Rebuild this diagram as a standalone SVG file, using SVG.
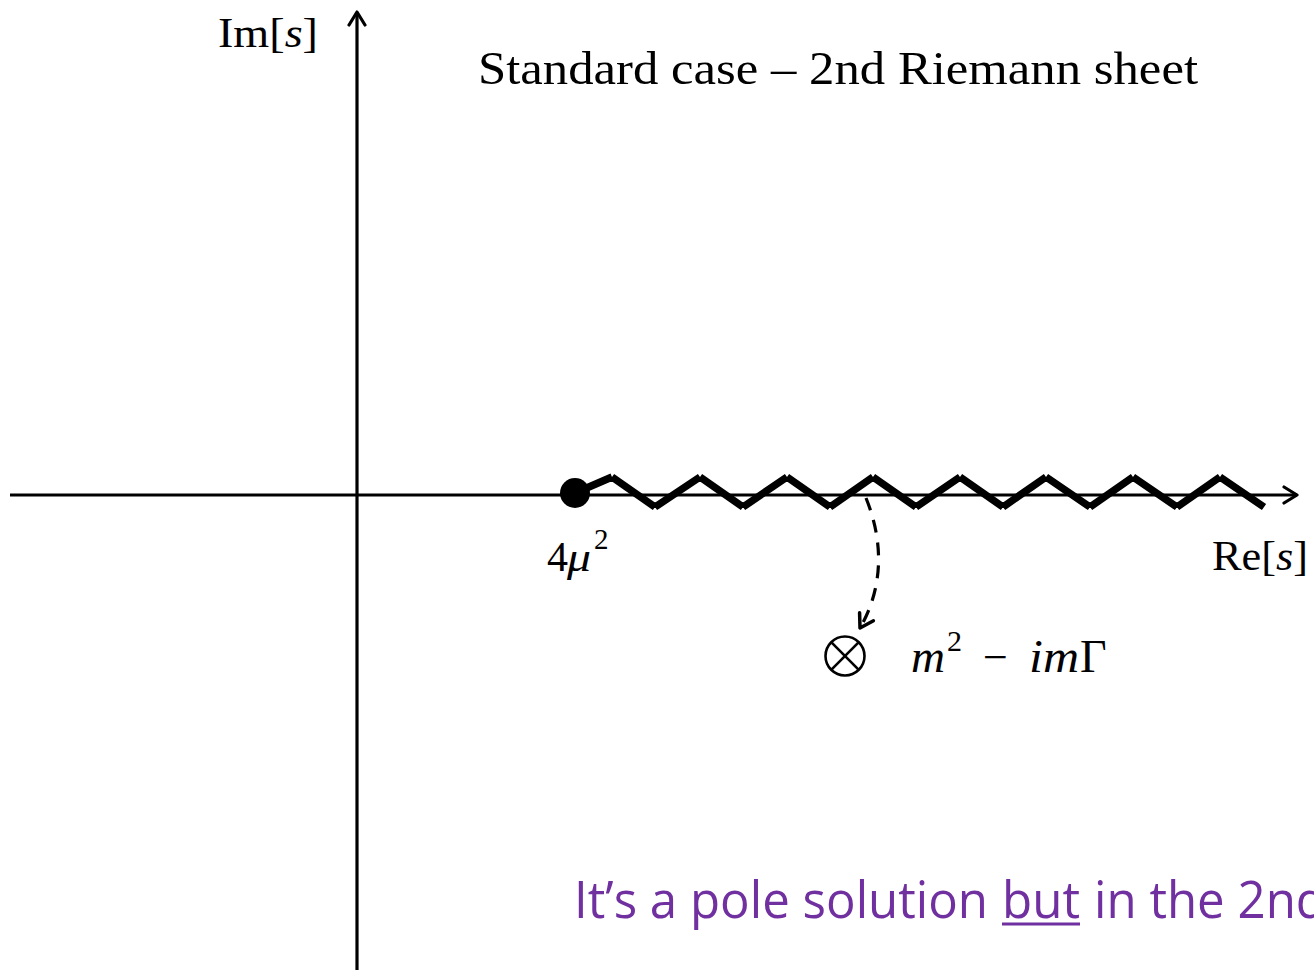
<svg xmlns="http://www.w3.org/2000/svg" width="1314" height="970" viewBox="0 0 1314 970">
<style>
.ax{stroke:#000;stroke-width:3.2;fill:none}
.zz{stroke:#000;stroke-width:7.5;fill:none;stroke-linecap:butt}
.m{font-family:"Liberation Serif","DejaVu Serif",serif;fill:#000}
.it{font-style:italic}
.p{font-family:"Open Sans","Noto Sans",sans-serif;fill:#7030A0}
</style>
<defs>
<marker id="ah" viewBox="0 0 20 20" refX="16" refY="10" markerWidth="20" markerHeight="20" markerUnits="userSpaceOnUse" orient="auto">
<path d="M3 2 L16 10 L3 18" fill="none" stroke="#000" stroke-width="3.2" stroke-linecap="round" stroke-linejoin="round"/>
</marker>
<marker id="ah2" viewBox="0 0 20 20" refX="16" refY="10" markerWidth="20" markerHeight="20" markerUnits="userSpaceOnUse" orient="auto">
<path d="M3 2 L16 10 L3 18" fill="none" stroke="#000" stroke-width="3.5" stroke-linecap="round" stroke-linejoin="round"/>
</marker>
</defs>
<g id="connectors">
<line class="ax" x1="10" y1="495" x2="1297" y2="495" marker-end="url(#ah)"/>
<line class="ax" x1="357" y1="970" x2="357" y2="12" marker-end="url(#ah)"/>
<path class="zz" d="M575 493 L612 477 M612 477 L655 507 M655 507 L700 477 M700 477 L743 507 M743 507 L787 477 M787 477 L830 507 M830 507 L873 477 M873 477 L916 507 M916 507 L960 477 M960 477 L1003 507 M1003 507 L1046 477 M1046 477 L1090 507 M1090 507 L1133 477 M1133 477 L1177 507 M1177 507 L1220 477 M1220 477 L1264 507"/>
<path d="M866 498 C 885 545, 882 590, 860 628" fill="none" stroke="#000" stroke-width="3.2" stroke-dasharray="13,10" marker-end="url(#ah2)"/>
</g>
<g id="threshold">
<circle cx="575" cy="493" r="15" fill="#000"/>
<text class="m" x="547" y="571" font-size="42">4</text>
<text class="m it" x="567" y="571" font-size="42" textLength="24" lengthAdjust="spacingAndGlyphs">μ</text>
<text class="m" x="594" y="549" font-size="29">2</text>
</g>
<g id="pole">
<circle cx="845" cy="656" r="19.5" fill="none" stroke="#000" stroke-width="2.6"/>
<line x1="831.2" y1="642.2" x2="858.8" y2="669.8" stroke="#000" stroke-width="2.6"/>
<line x1="858.8" y1="642.2" x2="831.2" y2="669.8" stroke="#000" stroke-width="2.6"/>
<text class="m it" x="911" y="672" font-size="46" textLength="34" lengthAdjust="spacingAndGlyphs">m</text>
<text class="m" x="947" y="651" font-size="30">2</text>
<text class="m" x="983" y="672" font-size="44">−</text>
<text class="m it" x="1029" y="672" font-size="46" textLength="50" lengthAdjust="spacingAndGlyphs">im</text>
<text class="m" x="1080" y="672" font-size="46">Γ</text>
</g>
<g id="labels">
<text class="m" x="218" y="47" font-size="43" textLength="100" lengthAdjust="spacingAndGlyphs">Im[<tspan class="it">s</tspan>]</text>
<text class="m" x="1212" y="570" font-size="43" textLength="96" lengthAdjust="spacingAndGlyphs">Re[<tspan class="it">s</tspan>]</text>
<text class="m" x="478" y="84" font-size="46" textLength="720" lengthAdjust="spacingAndGlyphs">Standard case – 2nd Riemann sheet</text>
</g>
<g id="note">
<text class="p" x="574" y="918" font-size="52" textLength="414" lengthAdjust="spacingAndGlyphs">It’s a pole solution</text>
<text class="p" x="1002" y="918" font-size="52" textLength="78" lengthAdjust="spacingAndGlyphs">but</text>
<line x1="1002" y1="924" x2="1080" y2="924" stroke="#7030A0" stroke-width="3"/>
<text class="p" x="1094" y="918" font-size="52" textLength="232" lengthAdjust="spacingAndGlyphs">in the 2nd</text>
</g>
</svg>
